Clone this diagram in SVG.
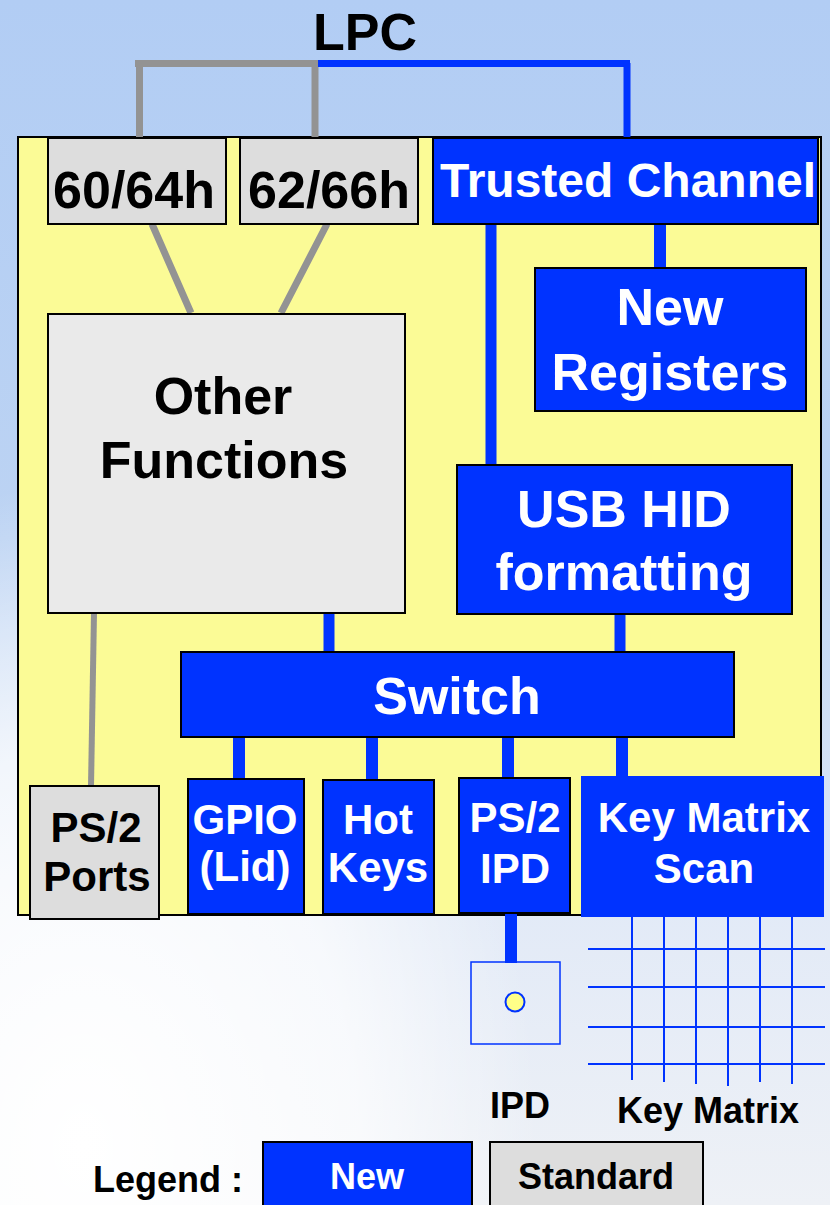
<svg xmlns="http://www.w3.org/2000/svg" width="830" height="1205" viewBox="0 0 830 1205">
  <defs>
    <linearGradient id="bg" x1="0" y1="0" x2="0" y2="1">
      <stop offset="0" stop-color="#b2cdf4"/>
      <stop offset="0.45" stop-color="#bcd3f3"/>
      <stop offset="0.75" stop-color="#e2eaf7"/>
      <stop offset="1" stop-color="#eef1f6"/>
    </linearGradient>
    <radialGradient id="glow" cx="0.1" cy="0.95" r="0.55">
      <stop offset="0" stop-color="#ffffff" stop-opacity="1"/>
      <stop offset="0.6" stop-color="#ffffff" stop-opacity="0.7"/>
      <stop offset="1" stop-color="#ffffff" stop-opacity="0"/>
    </radialGradient>
    <style>
      .txt { font-family: "Liberation Sans", Arial, sans-serif; font-weight: bold; text-anchor: middle; }
      .w { fill: #ffffff; }
      .k { fill: #000000; }
      .f52 { font-size: 52px; }
      .f48 { font-size: 48px; }
      .f42 { font-size: 42px; }
      .f36 { font-size: 36px; }
      .new { fill: #0033ff; stroke: #000000; stroke-width: 2; }
      .std { fill: #dddddd; stroke: #000000; stroke-width: 2; }
      .blue { stroke: #0033ff; fill: none; }
      .gray { stroke: #939393; fill: none; }
      .grid { stroke: #0033ff; stroke-width: 2; fill: none; }
    </style>
  </defs>

  <!-- background -->
  <rect x="0" y="0" width="830" height="1205" fill="url(#bg)"/>
  <rect x="0" y="0" width="830" height="1205" fill="url(#glow)"/>

  <!-- bus title -->
  <text class="txt k f52" x="365" y="50">LPC</text>

  <!-- controller body -->
  <rect id="controller" x="18" y="137" width="803" height="778" fill="#fbfb96" stroke="#000000" stroke-width="2"/>

  <!-- connectors -->
  <g id="connectors">
    <!-- LPC bus -->
    <path class="gray" stroke="#808080" stroke-width="7" d="M135 63.5 H318"/>
    <path class="gray" stroke="#808080" stroke-width="7" d="M139.5 63 V137 M315 63 V137"/>
    <path class="blue" stroke-width="7" d="M318 63.5 H630"/>
    <path class="blue" stroke-width="7" d="M627 63 V138"/>
    <!-- legacy ports to other functions -->
    <path class="gray" stroke-width="7" d="M152 224 L191 313 M327 224 L281 313"/>
    <path class="gray" stroke-width="6" d="M94 613 L91 786"/>
    <!-- trusted channel -->
    <path class="blue" stroke-width="11" d="M491 224 V465"/>
    <path class="blue" stroke-width="12" d="M660 224 V268"/>
    <!-- into switch -->
    <path class="blue" stroke-width="11" d="M329 613 V652"/>
    <path class="blue" stroke-width="11" d="M620 614 V652"/>
    <!-- switch outputs -->
    <path class="blue" stroke-width="12" d="M239 737 V779 M372 737 V780 M508 737 V778 M622 737 V776"/>
    <!-- PS/2 IPD to pointing device -->
    <path class="blue" stroke-width="12" d="M511 913 V963"/>
  </g>

  <g id="port6064">
    <rect class="std" x="48" y="138" width="178" height="86"/>
    <text class="txt k f52" x="134" y="208">60/64h</text>
  </g>
  <g id="port6266">
    <rect class="std" x="240" y="138" width="178" height="86"/>
    <text class="txt k f52" x="329" y="208">62/66h</text>
  </g>
  <g id="trusted">
    <rect class="new" x="433" y="138" width="385" height="86"/>
    <text class="txt w f48" x="628" y="197">Trusted Channel</text>
  </g>
  <g id="registers">
    <rect class="new" x="535" y="268" width="271" height="143"/>
    <text class="txt w f52" x="670" y="325">New</text>
    <text class="txt w f52" x="670" y="390">Registers</text>
  </g>
  <g id="other">
    <rect x="48" y="314" width="357" height="299" fill="#eaeaea" stroke="#000000" stroke-width="2"/>
    <text class="txt k f52" x="223" y="414">Other</text>
    <text class="txt k f52" x="224" y="478">Functions</text>
  </g>
  <g id="usbhid">
    <rect class="new" x="457" y="465" width="335" height="149"/>
    <text class="txt w f52" x="624" y="527">USB HID</text>
    <text class="txt w f52" x="624" y="590">formatting</text>
  </g>
  <g id="switch">
    <rect class="new" x="181" y="652" width="553" height="85"/>
    <text class="txt w f52" x="457" y="714">Switch</text>
  </g>
  <g id="ps2ports">
    <rect class="std" x="30" y="786" width="129" height="133"/>
    <text class="txt k f42" x="96" y="842">PS/2</text>
    <text class="txt k f42" x="97" y="891">Ports</text>
  </g>
  <g id="gpio">
    <rect class="new" x="188" y="779" width="116" height="135"/>
    <text class="txt w f42" x="245" y="834">GPIO</text>
    <text class="txt w f42" x="245" y="881">(Lid)</text>
  </g>
  <g id="hotkeys">
    <rect class="new" x="323" y="780" width="111" height="134"/>
    <text class="txt w f42" x="378" y="834">Hot</text>
    <text class="txt w f42" x="378" y="882">Keys</text>
  </g>
  <g id="ps2ipd">
    <rect class="new" x="459" y="778" width="111" height="135"/>
    <text class="txt w f42" x="515" y="832">PS/2</text>
    <text class="txt w f42" x="515" y="883">IPD</text>
  </g>
  <g id="keyscan">
    <rect x="581" y="776" width="243" height="141" fill="#0033ff"/>
    <text class="txt w f42" x="704" y="832">Key Matrix</text>
    <text class="txt w f42" x="704" y="883">Scan</text>
  </g>

  <!-- pointing device -->
  <g id="ipd">
    <rect x="471" y="962" width="89" height="82" fill="none" stroke="#0033ff" stroke-width="1.5"/>
    <circle cx="515" cy="1002" r="9.5" fill="#ffff88" stroke="#0033ff" stroke-width="2"/>
    <text class="txt k f36" x="520" y="1118">IPD</text>
  </g>

  <!-- key matrix -->
  <g id="keymatrix">
    <path class="grid" d="M588 949 H825 M588 987 H825 M588 1027 H825 M588 1064 H825"/>
    <path class="grid" d="M632 917 V1080 M664 917 V1082 M696 917 V1084 M728 917 V1086 M760 917 V1082 M792 917 V1084"/>
    <text class="txt k f36" x="708" y="1123">Key Matrix</text>
  </g>

  <!-- legend -->
  <g id="legend">
    <text class="txt k f36" x="168" y="1192">Legend :</text>
    <rect class="new" x="263" y="1142" width="209" height="70"/>
    <text class="txt w f36" x="367" y="1189">New</text>
    <rect class="std" x="490" y="1142" width="213" height="70"/>
    <text class="txt k f36" x="596" y="1189">Standard</text>
  </g>
</svg>
